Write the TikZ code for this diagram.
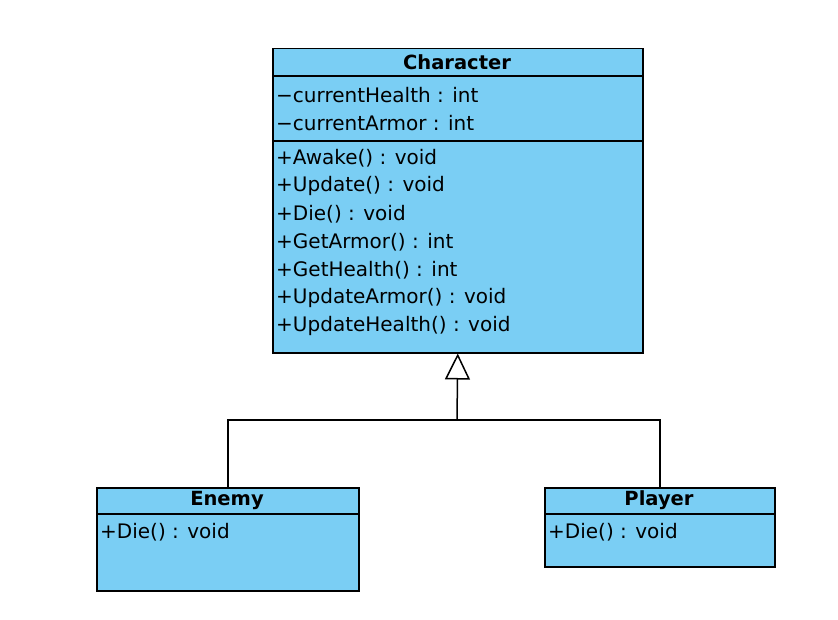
\documentclass[tikz,border=0pt]{standalone}
\usepackage{fontspec}
\setmainfont{DejaVu Sans}
\usetikzlibrary{arrows.meta}
\definecolor{umlblue}{RGB}{122,206,244}
\tikzset{
  classbox/.style={draw=black, fill=umlblue, line width=1.5pt, inner sep=0pt, anchor=north west},
  member/.style={anchor=west, inner sep=0pt, font=\fontsize{20}{22}\selectfont},
  title/.style={inner sep=0pt, font=\fontsize{19.5}{22}\selectfont\bfseries},
  divider/.style={line width=1.5pt},
  conn/.style={line width=1.5pt},
}
\begin{document}
\begin{tikzpicture}[x=1pt,y=-1pt]
\useasboundingbox (0,0) rectangle (838,620);
% Character
\node[classbox, minimum width=370pt, minimum height=304pt] (char) at (272,48) {};
\draw[divider] (272,76) -- (642,76);
\draw[divider] (272,141) -- (642,141);
\node[title] (chart) at (457,62) {Character};
\node[member] (a1) at (276,95) {−currentHealth : int};
\node[member] (a2) at (276,123) {−currentArmor : int};
\node[member] (m1) at (276,158) {+Awake() : void};
\node[member] (m2) at (276,186) {+Update() : void};
\node[member] (m3) at (276,214) {+Die() : void};
\node[member] (m4) at (276,242) {+GetArmor() : int};
\node[member] (m5) at (276,270) {+GetHealth() : int};
\node[member] (m6) at (276,298) {+UpdateArmor() : void};
\node[member] (m7) at (276,326) {+UpdateHealth() : void};
% Enemy
\node[classbox, minimum width=262pt, minimum height=103pt] (enemy) at (96,487) {};
\draw[divider] (96,514) -- (358,514);
\node[title] (enemyt) at (227,500) {Enemy};
\node[member] (e1) at (100,532) {+Die() : void};
% Player
\node[classbox, minimum width=230pt, minimum height=79pt] (player) at (544,487) {};
\draw[divider] (544,514) -- (774,514);
\node[title] (playert) at (659,500) {Player};
\node[member] (p1) at (548,532) {+Die() : void};
% connectors
\coordinate (j) at (457,420);
\draw[conn] (enemy.north) |- (j);
\draw[conn] (player.north) |- (j);
\draw[conn, -{Triangle[open, width=25pt, length=26pt, line width=1.5pt]}] (j) -- (char.south);
\end{tikzpicture}
\end{document}
